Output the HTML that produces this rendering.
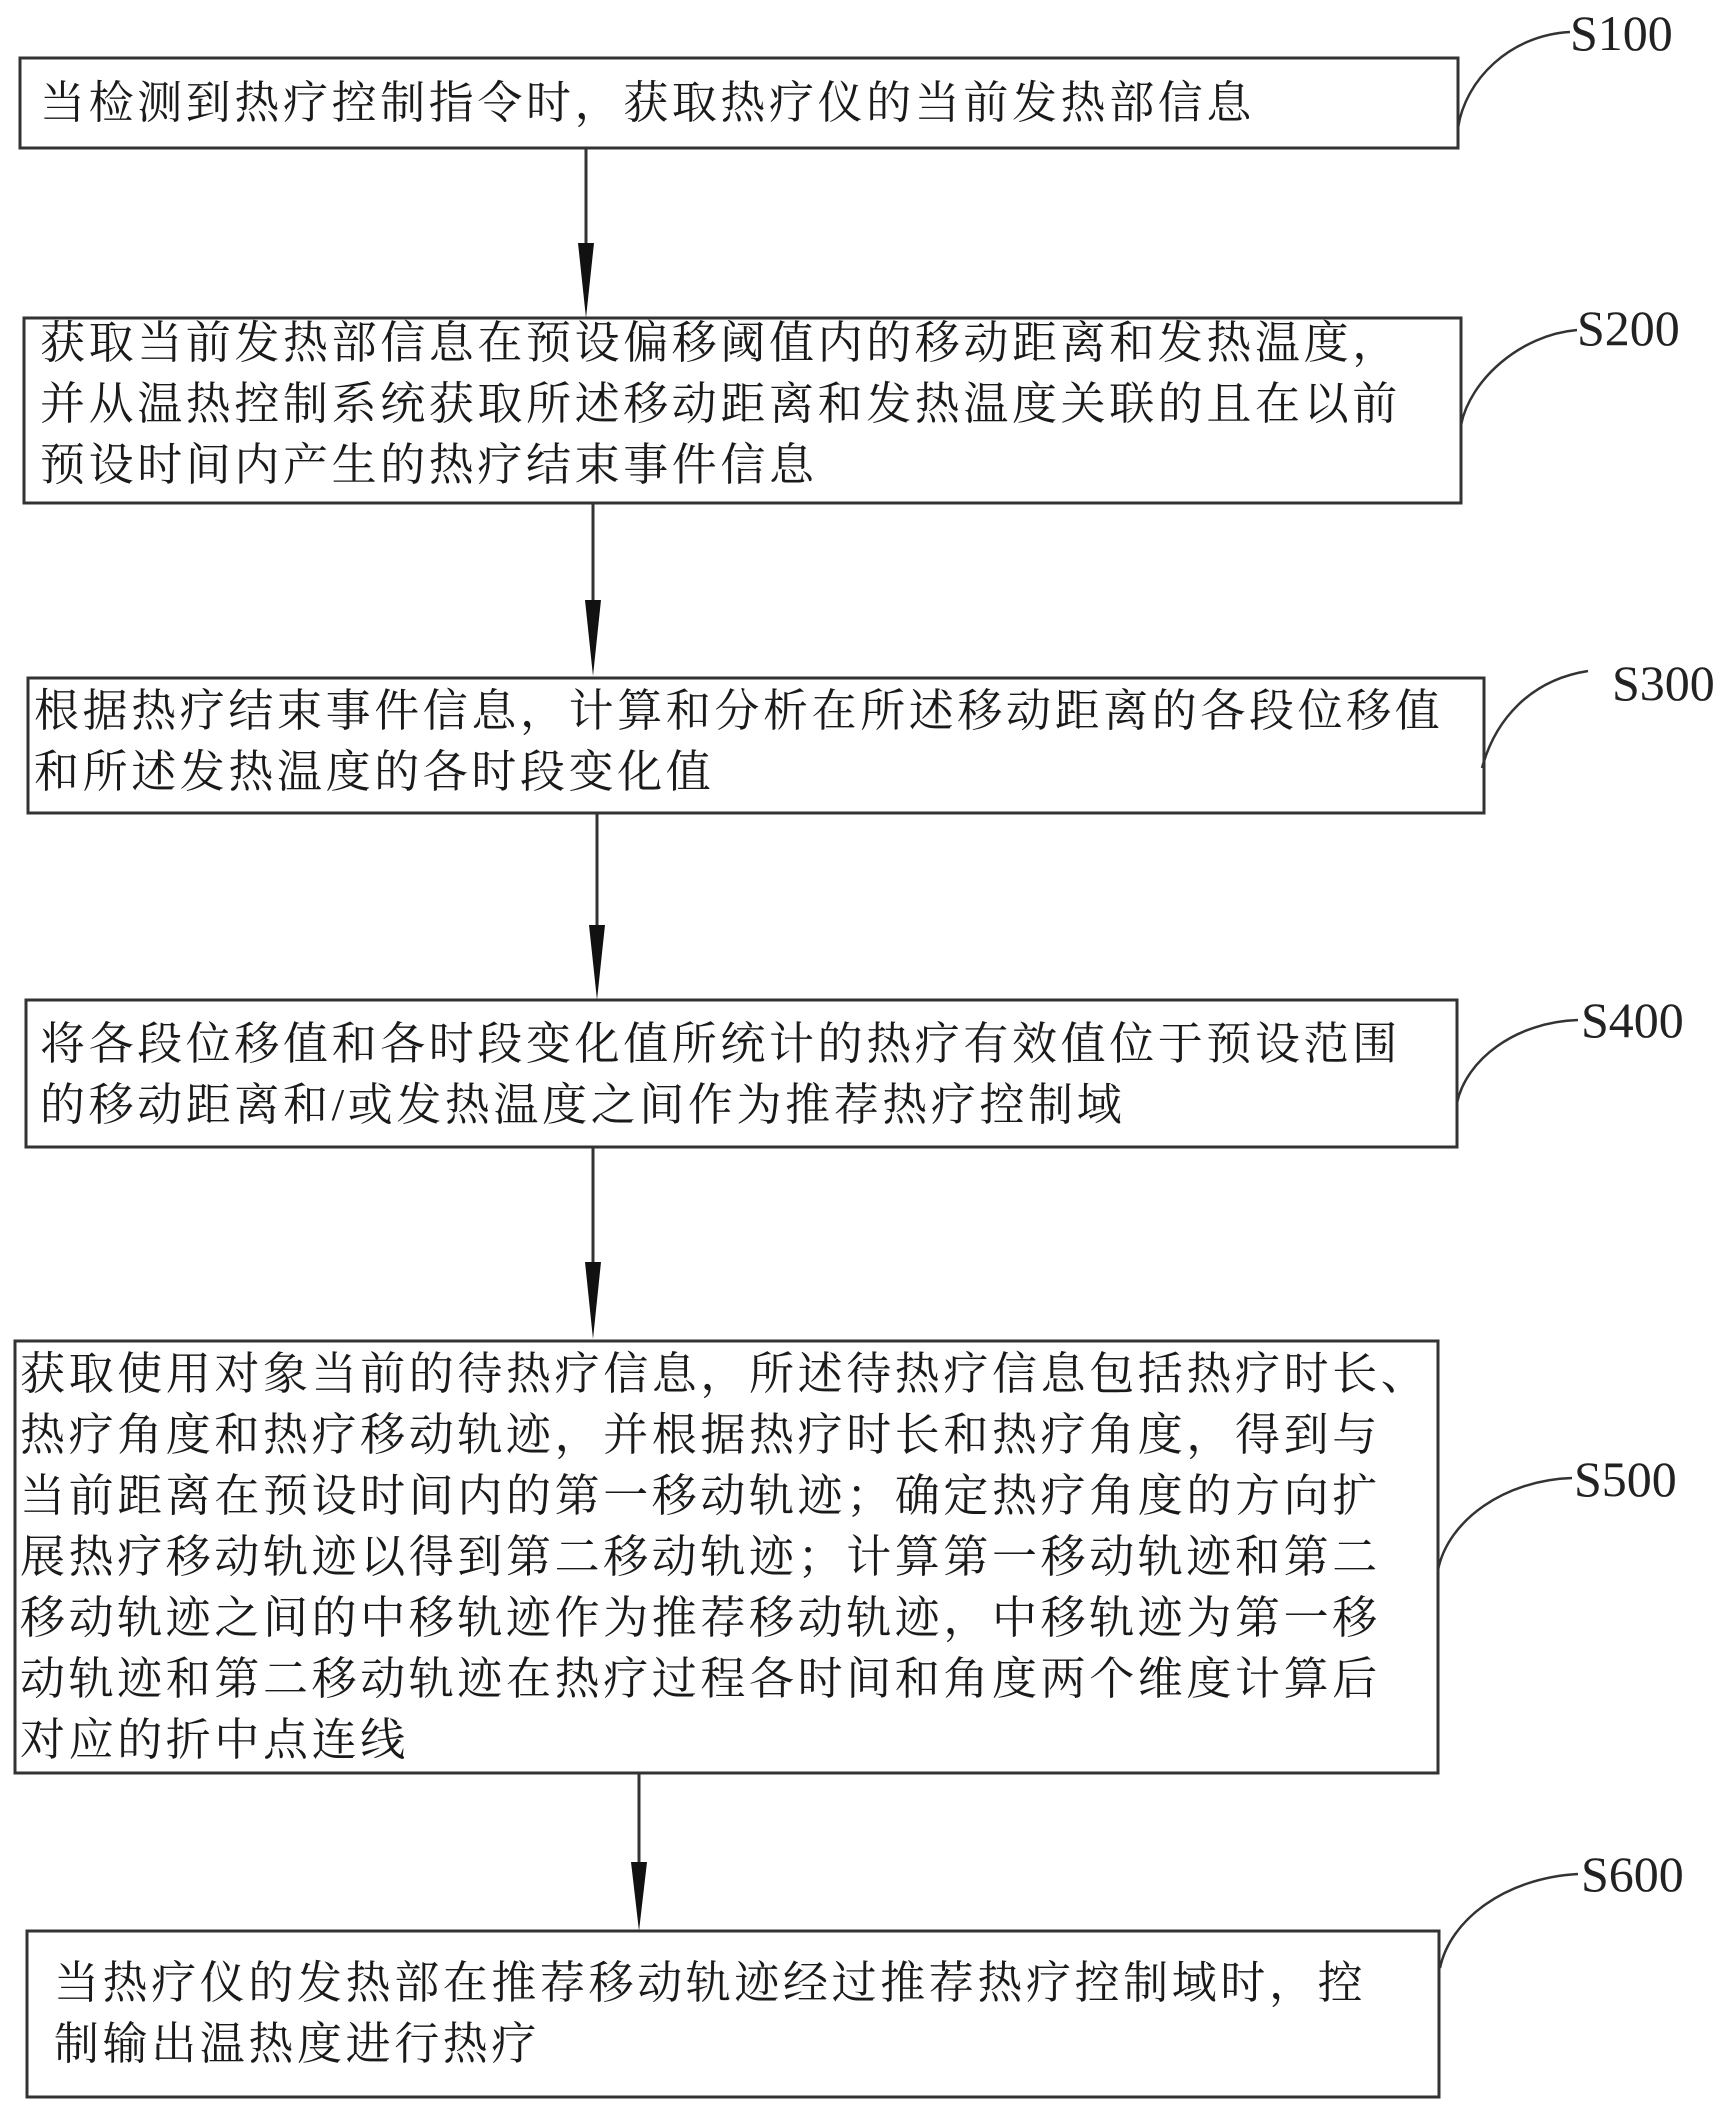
<!DOCTYPE html>
<html><head><meta charset="utf-8"><style>
body{margin:0;background:#fff;width:1733px;height:2112px;position:relative;overflow:hidden}
.t{position:absolute;font-family:"Liberation Serif","Noto Serif CJK SC",serif;font-size:45px;color:#1a1a1a;white-space:nowrap;line-height:61px;letter-spacing:3.6px}
.l{position:absolute;font-family:"Liberation Serif",serif;font-size:50px;color:#222;line-height:50px}
</style></head><body>
<svg width="1733" height="2112" style="position:absolute;left:0;top:0">
<g fill="none" stroke="#333" stroke-width="3">
<rect x="20" y="58" width="1438" height="90"/>
<rect x="24" y="318" width="1437" height="185"/>
<rect x="28" y="678" width="1456" height="135"/>
<rect x="26" y="1000" width="1431" height="147"/>
<rect x="15" y="1341" width="1423" height="432"/>
<rect x="27" y="1931" width="1412" height="166"/>
<line x1="586" y1="148" x2="586" y2="300"/>
<line x1="593" y1="503" x2="593" y2="660"/>
<line x1="597" y1="813" x2="597" y2="985"/>
<line x1="593" y1="1147" x2="593" y2="1325"/>
<line x1="639" y1="1773" x2="639" y2="1915"/>
<g stroke-width="2.5">
<path d="M1458 128 C1465 80,1510 35,1570 32"/>
<path d="M1461 425 C1470 380,1520 335,1577 330"/>
<path d="M1482 768 C1495 720,1530 680,1588 671"/>
<path d="M1457 1103 C1466 1060,1515 1022,1578 1020"/>
<path d="M1438 1570 C1448 1520,1505 1480,1572 1478"/>
<path d="M1440 1968 C1450 1920,1505 1878,1578 1874"/>
</g></g>
<g fill="#111">
<polygon points="578,243 594,243 586,318"/>
<polygon points="585,600 601,600 593,676"/>
<polygon points="589,925 605,925 597,1000"/>
<polygon points="585,1262 601,1262 593,1339"/>
<polygon points="631,1862 647,1862 639,1931"/>
</g>
</svg>
<div class="l" style="left:1570px;top:8px">S100</div>
<div class="l" style="left:1577px;top:303px">S200</div>
<div class="l" style="left:1612px;top:658px">S300</div>
<div class="l" style="left:1581px;top:995px">S400</div>
<div class="l" style="left:1574px;top:1454px">S500</div>
<div class="l" style="left:1581px;top:1849px">S600</div>
<div class="t" style="left:40px;top:73px">当检测到热疗控制指令时，获取热疗仪的当前发热部信息</div>
<div class="t" style="left:40px;top:313px">获取当前发热部信息在预设偏移阈值内的移动距离和发热温度，<br>并从温热控制系统获取所述移动距离和发热温度关联的且在以前<br>预设时间内产生的热疗结束事件信息</div>
<div class="t" style="left:34px;top:681px">根据热疗结束事件信息，计算和分析在所述移动距离的各段位移值<br>和所述发热温度的各时段变化值</div>
<div class="t" style="left:40px;top:1014px">将各段位移值和各时段变化值所统计的热疗有效值位于预设范围<br>的移动距离和/或发热温度之间作为推荐热疗控制域</div>
<div class="t" style="left:20px;top:1344px">获取使用对象当前的待热疗信息，所述待热疗信息包括热疗时长、<br>热疗角度和热疗移动轨迹，并根据热疗时长和热疗角度，得到与<br>当前距离在预设时间内的第一移动轨迹；确定热疗角度的方向扩<br>展热疗移动轨迹以得到第二移动轨迹；计算第一移动轨迹和第二<br>移动轨迹之间的中移轨迹作为推荐移动轨迹，中移轨迹为第一移<br>动轨迹和第二移动轨迹在热疗过程各时间和角度两个维度计算后<br>对应的折中点连线</div>
<div class="t" style="left:54px;top:1953px">当热疗仪的发热部在推荐移动轨迹经过推荐热疗控制域时，控<br>制输出温热度进行热疗</div>
</body></html>
